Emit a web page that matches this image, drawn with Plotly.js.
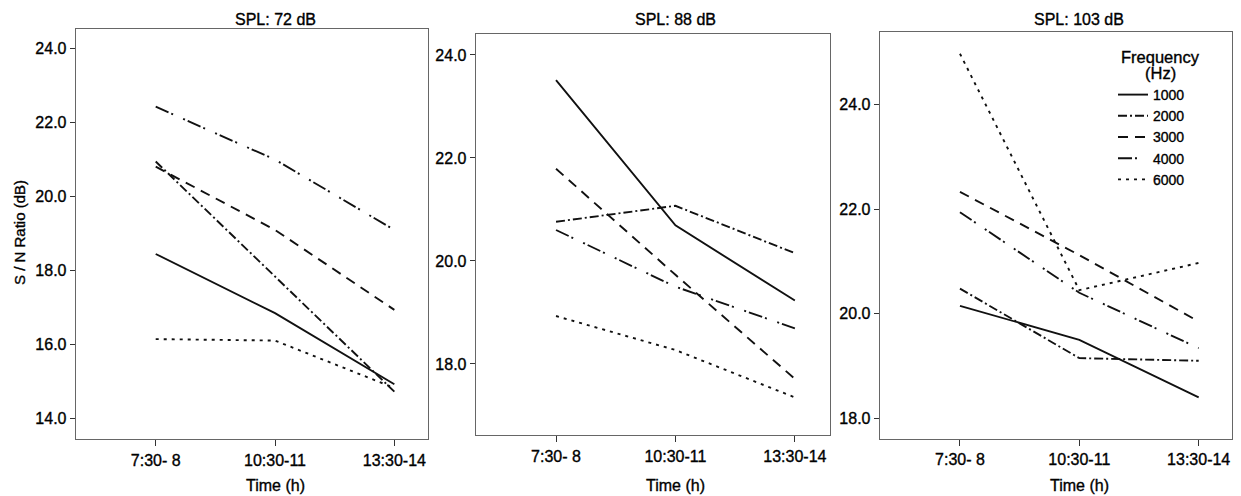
<!DOCTYPE html>
<html>
<head>
<meta charset="utf-8">
<script src="https://cdn.plot.ly/plotly-3.0.1.min.js"></script>
<style>
html,body{margin:0;padding:0;background:#fff;}
#chart{width:1241px;height:496px;}
#chart text{stroke:#000;stroke-width:0.35px;}
</style>
</head>
<body>
<div id="chart"></div>
<script>
const times = ["7:30- 8", "10:30-11", "13:30-14"];
const frequencies = ["1000", "2000", "3000", "4000", "6000"];
const panelTitles = ["SPL: 72 dB", "SPL: 88 dB", "SPL: 103 dB"];

// S/N ratio (dB) per frequency, per time slot
const spl72 = {
  "1000": [18.45, 16.85, 14.93],
  "2000": [20.95, 17.84, 14.73],
  "3000": [20.81, 19.10, 16.94],
  "4000": [22.43, 21.00, 19.10],
  "6000": [16.15, 16.11, 14.83]
};
const spl88 = {
  "1000": [23.51, 20.69, 19.23],
  "2000": [20.76, 21.07, 20.15],
  "3000": [21.79, 19.73, 17.71],
  "4000": [20.60, 19.50, 18.69],
  "6000": [18.93, 18.27, 17.35]
};
const spl103 = {
  "1000": [20.15, 19.50, 18.40],
  "2000": [20.48, 19.15, 19.10],
  "3000": [22.33, 21.12, 19.85],
  "4000": [21.94, 20.40, 19.34],
  "6000": [24.97, 20.45, 20.97]
};
const panels = [spl72, spl88, spl103];

const yTicks72 = [14, 16, 18, 20, 22, 24];
const yTicksOther = [18, 20, 22, 24];

const dashes = {
  "1000": "solid",
  "2000": "9px,3px,2px,3px",
  "3000": "10px,7px",
  "4000": "14px,3px,2px,11px,2px,3px",
  "6000": "3px,5px"
};

const W = 1241, H = 496;
const boxes = [
  {x0: 76, x1: 428, y0: 29, y1: 439, yr: [13.45, 24.53], xr: [-0.668, 2.282], ticks: yTicks72},
  {x0: 476, x1: 829.5, y0: 34.3, y1: 435, yr: [16.62, 24.40], xr: [-0.670, 2.290], ticks: yTicksOther},
  {x0: 880, x1: 1231.5, y0: 32.3, y1: 438.7, yr: [17.61, 25.38], xr: [-0.670, 2.275], ticks: yTicksOther}
];

const FONT = "Liberation Sans, Arial, sans-serif";
const traces = [];
const layout = {
  width: W, height: H,
  margin: {l: 0, r: 0, t: 0, b: 0},
  paper_bgcolor: "#fff", plot_bgcolor: "#fff",
  font: {family: FONT, size: 16, color: "#000"},
  showlegend: true,
  legend: {
    x: 1113 / W, xanchor: "left", y: 1 - 79 / H, yanchor: "top",
    bgcolor: "rgba(0,0,0,0)", borderwidth: 0,
    font: {family: FONT, size: 14, color: "#000"},
    tracegroupgap: 0, itemwidth: 30
  },
  annotations: []
};

panels.forEach((p, i) => {
  const b = boxes[i];
  const xa = i === 0 ? "xaxis" : "xaxis" + (i + 1);
  const ya = i === 0 ? "yaxis" : "yaxis" + (i + 1);
  const xr = i === 0 ? "x" : "x" + (i + 1);
  const yr = i === 0 ? "y" : "y" + (i + 1);
  frequencies.forEach(f => {
    traces.push({
      type: "scatter", mode: "lines",
      x: times, y: p[f],
      xaxis: xr, yaxis: yr,
      name: f, legendgroup: f,
      showlegend: i === 0,
      line: {color: "#111", width: 1.9, dash: dashes[f]},
      hoverinfo: "skip"
    });
  });
  layout[xa] = {
    type: "category",
    domain: [b.x0 / W, b.x1 / W],
    range: b.xr,
    anchor: yr,
    showline: true, mirror: true, linecolor: "#666", linewidth: 1.3,
    showgrid: false, zeroline: false,
    ticks: "outside", ticklen: 6, tickcolor: "#333", tickwidth: 1,
    tickfont: {family: FONT, size: 16, color: "#000"},
    fixedrange: true
  };
  layout[ya] = {
    domain: [1 - b.y1 / H, 1 - b.y0 / H],
    range: b.yr,
    anchor: xr,
    tickvals: b.ticks,
    tickformat: ".1f",
    showline: true, mirror: true, linecolor: "#666", linewidth: 1.3,
    showgrid: false, zeroline: false,
    ticks: "outside", ticklen: 5, tickcolor: "#333", tickwidth: 1,
    tickfont: {family: FONT, size: 16, color: "#000"},
    fixedrange: true
  };
  // panel title
  layout.annotations.push({
    text: panelTitles[i], xref: xr, x: times[1], yref: "paper", y: 1 - 19.5 / H,
    xanchor: "center", yanchor: "middle", showarrow: false,
    font: {family: FONT, size: 16, color: "#000"}
  });
  // x axis title
  layout.annotations.push({
    text: "Time (h)", xref: xr, x: times[1], yref: "paper", y: 1 - 485 / H,
    xanchor: "center", yanchor: "middle", showarrow: false,
    font: {family: FONT, size: 16, color: "#000"}
  });
});

layout.annotations.push({
  text: "S / N Ratio (dB)", xref: "paper", x: 19 / W, yref: "paper", y: 1 - 233 / H,
  xanchor: "center", yanchor: "middle", textangle: -90, showarrow: false,
  font: {family: FONT, size: 15, color: "#000"}
});

// legend title (two centred lines)
layout.annotations.push({
  text: "Frequency", xref: "paper", x: 1160 / W, yref: "paper", y: 1 - 57 / H,
  xanchor: "center", yanchor: "middle", showarrow: false,
  font: {family: FONT, size: 16.5, color: "#000"}
});
layout.annotations.push({
  text: "(Hz)", xref: "paper", x: 1160 / W, yref: "paper", y: 1 - 72.5 / H,
  xanchor: "center", yanchor: "middle", showarrow: false,
  font: {family: FONT, size: 16.5, color: "#000"}
});

Plotly.newPlot("chart", traces, layout, {staticPlot: true, displayModeBar: false});
</script>
</body>
</html>
